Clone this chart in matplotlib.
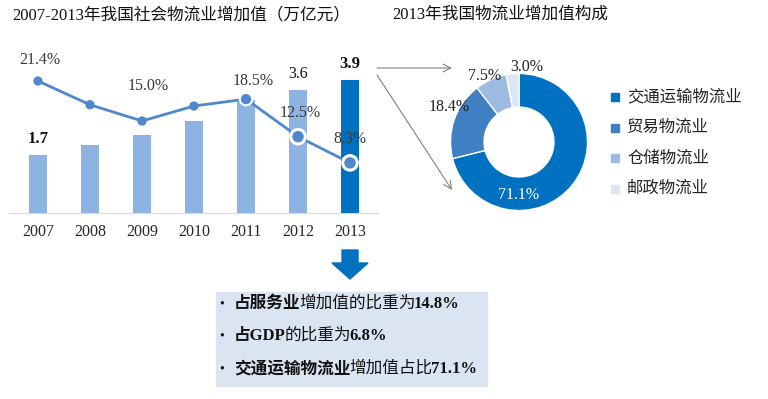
import matplotlib.pyplot as plt
from matplotlib.patches import Rectangle, FancyArrow
import numpy as np

plt.rcParams['font.family'] = ['Liberation Serif', 'Noto Sans CJK SC', 'DejaVu Sans']

# data
years = ['2007', '2008', '2009', '2010', '2011', '2012', '2013']
value_added = [1.7, 2.0, 2.3, 2.7, 3.3, 3.6, 3.9]      # 万亿元
growth = [21.4, 17.6, 15.0, 17.4, 18.5, 12.5, 8.3]      # %
growth_shown = [0, 2, 4, 5, 6]
bar_shown = [0, 5, 6]

segments = ['交通运输物流业', '贸易物流业', '仓储物流业', '邮政物流业']
shares = [71.1, 18.4, 7.5, 3.0]

notes = [
    [('占服务业', True), ('增加值的比重为', False), ('14.8%', True)],
    [('占GDP', True), ('的比重为', False), ('6.8%', True)],
    [('交通运输物流业', True), ('增加值占比', False), ('71.1%', True)],
]

W, H = 768, 399
fig = plt.figure(figsize=(W / 100, H / 100), dpi=100)


def px_box(l, t, r, b):
    return [l / W, 1 - b / H, (r - l) / W, (b - t) / H]


# bar chart + growth line
ax = fig.add_axes(px_box(10, 40, 378, 213))
x = np.arange(len(years))
bar_colors = ['#8db3e2'] * (len(years) - 1) + ['#0070c0']
ax.bar(x, value_added, width=0.33, color=bar_colors)
ax.set_xlim(-0.538, 6.538)
ax.set_ylim(0, 5.07)
for s in ['top', 'left', 'right']:
    ax.spines[s].set_visible(False)
ax.spines['bottom'].set_color('#d9d9d9')
ax.set_yticks([])
ax.set_xticks(x, years)
ax.tick_params(axis='x', length=0, labelsize=11.5, pad=8, colors='#262626')
for i in bar_shown:
    bold = i != 5
    ax.annotate(f'{value_added[i]:.1f}', (x[i], value_added[i]), xytext=(0, 6),
                textcoords='offset points', ha='center', va='bottom',
                fontsize=12 if bold else 11.5, fontweight='bold' if bold else 'normal',
                color='#111111')

ax2 = ax.twinx()
ax2.set_ylim(0.28, 27.96)
ax2.axis('off')
line_color = '#4f88cc'
ax2.plot(x, growth, color=line_color, lw=2, zorder=2)
marker_size = [45, 45, 45, 45, 80, 110, 110]
edge_w = [0, 0, 0, 0, 1.5, 2.2, 2.2]
ax2.scatter(x, growth, s=marker_size, color=line_color, edgecolors='white',
            linewidths=edge_w, zorder=3)
label_offsets = [(2, 21), (6, 35), (7, 18), (2, 24), (0, 24)]
for i, (dx, dy) in zip(growth_shown, label_offsets):
    ax2.annotate(f'{growth[i]:.1f}%', (x[i], growth[i]), xytext=(dx * 0.72, dy * 0.72),
                 textcoords='offset points', ha='center', va='center',
                 fontsize=11.5, color='#3a3a3a')

# donut
cx, cy, R = 519, 142, 68.5
dax = fig.add_axes(px_box(cx - 80, cy - 80, cx + 80, cy + 80))
pie_colors = ['#0070c0', '#3f7fc2', '#9dbbe0', '#dce6f2']
wedges, _ = dax.pie(shares, colors=pie_colors, startangle=90, counterclock=False,
                    radius=1, wedgeprops=dict(width=0.49, edgecolor='white', linewidth=1))
dax.set_xlim(-80 / R, 80 / R)
dax.set_ylim(-80 / R, 80 / R)
pie_label_pos = [(0, -0.77), (-1.02, 0.51), (-0.50, 0.96), (0.12, 1.09)]
for v, (px, py), c in zip(shares, pie_label_pos, ['white', '#222', '#222', '#222']):
    dax.text(px, py, f'{v:.1f}%', ha='center', va='center', fontsize=11.5, color=c)

# overlay in pixel coordinates
ov = fig.add_axes([0, 0, 1, 1])
ov.set_xlim(0, W)
ov.set_ylim(H, 0)
ov.axis('off')
ov.patch.set_alpha(0)

ov.text(12, 15, '2007-2013年我国社会物流业增加值（万亿元）', fontsize=12,
        va='center', color='#111111')
ov.text(392, 15, '2013年我国物流业增加值构成', fontsize=12, va='center', color='#111111')

arrow_kw = dict(arrowstyle='->', color='#808080', lw=0.8, shrinkA=0, shrinkB=0,
                mutation_scale=14)
ov.annotate('', xy=(452, 68), xytext=(377, 68), arrowprops=arrow_kw)
ov.annotate('', xy=(452, 190), xytext=(377, 75), arrowprops=arrow_kw)

# legend
for i, (name, c) in enumerate(zip(segments, pie_colors)):
    y = 97 + i * 30.7
    ov.add_patch(Rectangle((611, y - 4), 8, 8, color=c))
    ov.text(627, y, name, fontsize=11.8, va='center', color='#222222')

# down arrow + summary box
ov.add_patch(FancyArrow(350, 250, 0, 29, width=16, head_width=36, head_length=16,
                        length_includes_head=True, color='#0070c0'))
ov.add_patch(Rectangle((216, 292), 271, 94, color='#dbe5f1'))

renderer = fig.canvas.get_renderer()
for row, y in zip(notes, [304, 336, 369]):
    ov.text(222, y, '•', fontsize=10, va='center', ha='center', color='#111111')
    xpos = 234
    for txt, bold in row:
        t = ov.text(xpos, y, txt, fontsize=12, va='center', color='#111111',
                    fontweight='bold' if bold else 'normal')
        xpos += t.get_window_extent(renderer).width - 1.5

fig.savefig('out.png', dpi=100)
